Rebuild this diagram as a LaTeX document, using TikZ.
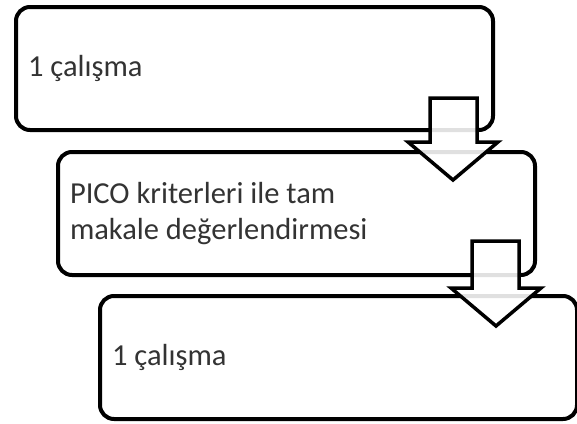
\documentclass[tikz,border=0pt]{standalone}
\usepackage{fontspec}
\setmainfont{Carlito}
\begin{document}
\begin{tikzpicture}[x=1pt,y=-1pt,
  box/.style={draw=black, line width=4pt, rounded corners=14pt, fill=white,
    inner xsep=12pt, inner ysep=0pt, align=flush left, anchor=north west,
    minimum height=123pt, text width=453pt,
    font=\fontsize{30.5}{36}\selectfont, text=black!80},
  flowarrow/.style={draw=black, line width=3.5pt, fill=white, fill opacity=0.88, line join=miter}]
\useasboundingbox (0,0) rectangle (577,423);
\node[box] (b1) at (14,5) {1 çalışma};
\node[box] (b2) at (56,150) {PICO kriterleri ile tam\\makale değerlendirmesi};
\draw[flowarrow] (430,98) -- (477,98) -- (477,142) -- (498,142) -- (453,180) -- (408,142) -- (430,142) -- cycle;
\node[box] (b3) at (98,294) {1 çalışma};
\draw[flowarrow] (472,241) -- (519,241) -- (519,288) -- (541,288) -- (496,326) -- (451,288) -- (472,288) -- cycle;
\end{tikzpicture}
\end{document}
